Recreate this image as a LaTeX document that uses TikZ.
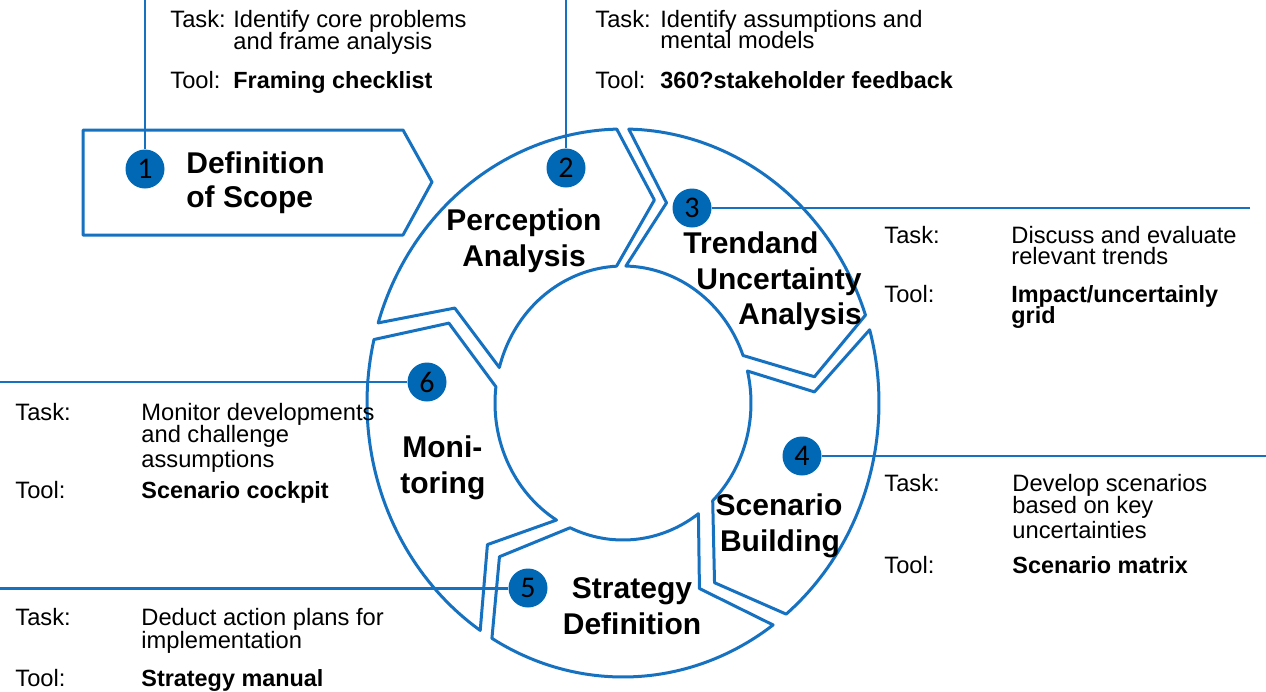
\documentclass[tikz,border=0pt]{standalone}
\usepackage{fontspec}
\setmainfont{Liberation Sans}
\newfontfamily\numfont{Carlito}
\definecolor{ringblue}{RGB}{22,114,192}
\definecolor{dotblue}{RGB}{0,104,180}
\newcommand\ringseg[8]{%
  \draw[ring] plot[domain=#1:#5, samples=50] ({cos(\x)},{sin(\x)})
    -- ({#8*cos(#7)},{#8*sin(#7)})
    -- ({0.5*cos(#6)},{0.5*sin(#6)})
    -- plot[domain=#6:#2, samples=40] ({0.5*cos(\x)},{0.5*sin(\x)})
    -- ({#4*cos(#3)},{#4*sin(#3)}) -- cycle;}
\begin{document}
\begin{tikzpicture}[x={(0.5pt,0)}, y={(0,-0.5pt)},
  ring/.style={draw=ringblue, line width=1.5pt, line join=round},
  lead/.style={draw=ringblue, line width=1pt},
  leadthick/.style={draw=ringblue, line width=1.5pt},
  num/.style={circle, fill=dotblue, minimum size=19.5pt, inner sep=0pt,
    font=\numfont\fontsize{15}{15}\selectfont, text=black},
  lbl/.style={font=\bfseries\fontsize{15}{18}\selectfont, inner sep=0pt, anchor=base},
  lblw/.style={lbl, anchor=base west},
  txt/.style={font=\fontsize{11.85}{12}\selectfont, inner sep=0pt, anchor=base west},
  tool/.style={txt, font=\bfseries\fontsize{11.7}{12}\selectfont},
]
\useasboundingbox (0,0) rectangle (1266,692);
\fill[white] (0,0) rectangle (1266,692);

% ring of five arrow segments
\coordinate (C) at (623,403);
\begin{scope}[shift={(C)}, x={(128pt,0)}, y={(0,137pt)}]
  \ringseg{163}{165}{152.2}{0.743}{91.4}{92.9}{80.6}{0.751}
  \ringseg{88.7}{88.7}{76.9}{0.75}{18.7}{20.3}{7.3}{0.754}
  \ringseg{15.5}{13.5}{3.1}{0.749}{-50.4}{-45.5}{-61.4}{0.747}
  \ringseg{-54.1}{-53.9}{-66.2}{0.74}{-120.8}{-114.4}{-130.7}{0.74}
  \ringseg{-123.9}{-121.3}{-135.7}{0.74}{-193.4}{-186.8}{-203.2}{0.74}
\end{scope}

% first step: pentagon arrow
\draw[ring] (83,130) -- (403,130) -- (432,182) -- (403,235) -- (83,235) -- cycle;

% leader line ends
\coordinate (e1) at (145,0);
\coordinate (e2) at (566,0);
\coordinate (e3) at (1250,208);
\coordinate (e4) at (1266,456);
\coordinate (e5) at (0,588);
\coordinate (e6) at (0,382);

% number circles
\node[num] (n1) at (145,169) {1};
\node[num] (n2) at (566,168) {2};
\node[num] (n3) at (692,208) {3};
\node[num] (n4) at (802,456) {4};
\node[num] (n5) at (528,588) {5};
\node[num] (n6) at (427,382) {6};

\draw[lead] (n1) -- (e1);
\draw[lead] (n2) -- (e2);
\draw[lead] (n3) -- (e3);
\draw[lead] (n4) -- (e4);
\draw[leadthick] (n5) -- (e5);
\draw[lead] (n6) -- (e6);

% segment labels
\node[lblw] (l1a) at (186,173) {Definition};
\node[lblw] (l1b) at (186,207) {of Scope};
\node[lbl] (l2a) at (524,230) {Perception};
\node[lbl] (l2b) at (524,266) {Analysis};
\node[lblw] (l3a) at (683,253) {Trendand};
\node[lblw] (l3b) at (696,289) {Uncertainty};
\node[lblw] (l3c) at (738,324) {Analysis};
\node[lbl] (l4a) at (779,515) {Scenario};
\node[lbl] (l4b) at (780,551) {Building};
\node[lbl] (l5a) at (632,598) {Strategy};
\node[lbl] (l5b) at (632,634) {Definition};
\node[lblw] (l6a) at (402,457) {Moni-};
\node[lblw] (l6b) at (400,493) {toring};

% task / tool texts
\node[txt] (a1) at (170,27) {Task:};
\node[txt] (a2) at (233,27) {Identify core problems};
\node[txt] (a3) at (233,49) {and frame analysis};
\node[txt] (a4) at (170,88) {Tool:};
\node[tool] (a5) at (233,88) {Framing checklist};

\node[txt] (b1) at (595,27) {Task:};
\node[txt] (b2) at (660,27) {Identify assumptions and};
\node[txt] (b3) at (660,48) {mental models};
\node[txt] (b4) at (595,88) {Tool:};
\node[tool] (b5) at (660,88) {360?stakeholder feedback};

\node[txt] (c1) at (884,243) {Task:};
\node[txt] (c2) at (1011,243) {Discuss and evaluate};
\node[txt] (c3) at (1011,264) {relevant trends};
\node[txt] (c4) at (884,302) {Tool:};
\node[tool] (c5) at (1011,302) {Impact/uncertainly};
\node[tool] (c6) at (1011,323) {grid};

\node[txt] (d1) at (884,491) {Task:};
\node[txt] (d2) at (1012,491) {Develop scenarios};
\node[txt] (d3) at (1012,513) {based on key};
\node[txt] (d4) at (1012,538) {uncertainties};
\node[txt] (d5) at (884,573) {Tool:};
\node[tool] (d6) at (1012,573) {Scenario matrix};

\node[txt] (f1) at (15,420) {Task:};
\node[txt] (f2) at (141,420) {Monitor developments};
\node[txt] (f3) at (141,442) {and challenge};
\node[txt] (f4) at (141,467) {assumptions};
\node[txt] (f5) at (15,498) {Tool:};
\node[tool] (f6) at (141,498) {Scenario cockpit};

\node[txt] (g1) at (15,625) {Task:};
\node[txt] (g2) at (141,625) {Deduct action plans for};
\node[txt] (g3) at (141,648) {implementation};
\node[txt] (g4) at (15,686) {Tool:};
\node[tool] (g5) at (141,686) {Strategy manual};
\end{tikzpicture}
\end{document}
